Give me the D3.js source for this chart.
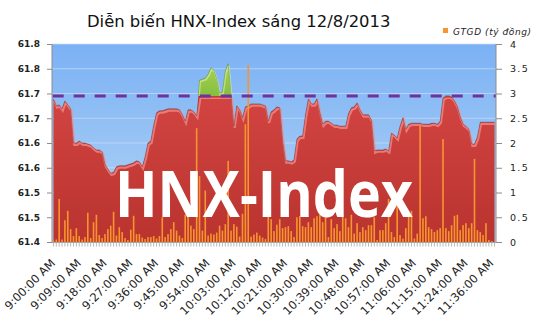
<!DOCTYPE html>
<html><head><meta charset="utf-8">
<script src="https://cdn.jsdelivr.net/npm/d3@7"></script>
<style>body{margin:0;background:#fff}svg{display:block}</style>
</head><body>
<svg id="c" width="535" height="335"></svg>
<script>
const title = "Diễn biến HNX-Index sáng 12/8/2013";
const legendLabel = "GTGD (tỷ đồng)";
const watermark = "HNX-Index";
const referenceValue = 61.695;

const categories = [
"9:00","9:01","9:02","9:03","9:04","9:05","9:06","9:07","9:08","9:09",
"9:10","9:11","9:12","9:13","9:14","9:15","9:16","9:17","9:18","9:19",
"9:20","9:21","9:22","9:23","9:24","9:25","9:26","9:27","9:28","9:29",
"9:30","9:31","9:32","9:33","9:34","9:35","9:36","9:37","9:38","9:39",
"9:40","9:41","9:42","9:43","9:44","9:45","9:46","9:47","9:48","9:49",
"9:50","9:51","9:52","9:53","9:54","9:55","9:56","9:57","9:58","9:59",
"10:00","10:01","10:02","10:03","10:04","10:05","10:06","10:07","10:08","10:09",
"10:10","10:11","10:12","10:13","10:14","10:15","10:16","10:17","10:18","10:19",
"10:20","10:21","10:22","10:23","10:24","10:25","10:26","10:27","10:28","10:29",
"10:30","10:31","10:32","10:33","10:34","10:35","10:36","10:37","10:38","10:39",
"10:40","10:41","10:42","10:43","10:44","10:45","10:46","10:47","10:48","10:49",
"10:50","10:51","10:52","10:53","10:54","10:55","10:56","10:57","10:58","10:59",
"11:00","11:01","11:02","11:03","11:04","11:05","11:06","11:07","11:08","11:09",
"11:10","11:11","11:12","11:13","11:14","11:15","11:16","11:17","11:18","11:19",
"11:20","11:21","11:22","11:23","11:24","11:25","11:26","11:27","11:28","11:29",
"11:30","11:34","11:35","11:36","11:37"];

const xTickLabels = ["9:00:00 AM","9:09:00 AM","9:18:00 AM","9:27:00 AM","9:36:00 AM","9:45:00 AM",
"9:54:00 AM","10:03:00 AM","10:12:00 AM","10:21:00 AM","10:30:00 AM","10:39:00 AM","10:48:00 AM",
"10:57:00 AM","11:06:00 AM","11:15:00 AM","11:24:00 AM","11:36:00 AM"];
const xTickCategories = ["9:00","9:09","9:18","9:27","9:36","9:45","9:54","10:03","10:12","10:21",
"10:30","10:39","10:48","10:57","11:06","11:15","11:24","11:36"];

const indexValues = [
61.689,61.675,61.677,61.669,61.685,61.677,61.669,61.600,61.600,61.604,
61.600,61.600,61.598,61.596,61.590,61.586,61.586,61.582,61.556,61.547,
61.539,61.541,61.552,61.554,61.554,61.554,61.556,61.558,61.560,61.564,
61.562,61.552,61.572,61.600,61.604,61.636,61.661,61.665,61.665,61.667,
61.669,61.669,61.669,61.669,61.667,61.657,61.644,61.667,61.667,61.663,
61.655,61.727,61.729,61.731,61.739,61.752,61.747,61.729,61.701,61.703,
61.745,61.760,61.697,61.634,61.675,61.667,61.651,61.673,61.675,61.679,
61.679,61.679,61.679,61.677,61.675,61.644,61.663,61.667,61.673,61.671,
61.606,61.564,61.564,61.562,61.566,61.608,61.614,61.614,61.657,61.689,
61.679,61.679,61.689,61.661,61.638,61.644,61.644,61.640,61.636,61.636,
61.634,61.634,61.634,61.659,61.671,61.673,61.681,61.667,61.657,61.657,
61.657,61.646,61.584,61.586,61.586,61.586,61.588,61.584,61.620,61.616,
61.610,61.634,61.651,61.628,61.638,61.640,61.640,61.640,61.640,61.638,
61.638,61.638,61.640,61.640,61.638,61.644,61.691,61.695,61.695,61.693,
61.685,61.673,61.653,61.638,61.634,61.628,61.598,61.598,61.612,61.642,
61.642,61.642,61.642,61.642,61.642];

const volumeValues = [
0.03,0.05,0.87,0.05,0.44,0.63,0.26,0.12,0.28,0.12,
0.05,0.10,0.59,0.08,0.40,0.55,0.14,0.08,0.16,0.26,
0.33,0.61,0.13,0.30,0.20,0.08,0.04,0.25,0.53,0.16,
0.16,0.09,0.06,0.10,0.10,0.12,0.07,0.12,0.50,0.10,
0.16,0.26,0.40,0.23,0.13,0.08,0.55,0.51,0.33,0.26,
2.30,1.33,0.23,1.04,0.13,0.17,0.15,0.19,0.33,0.23,
0.36,1.64,0.23,0.36,0.31,0.11,0.57,2.38,3.58,0.11,
0.15,0.19,0.13,0.09,0.06,0.63,0.46,0.22,0.35,0.46,
0.28,0.30,0.32,0.22,0.10,0.50,0.52,0.32,0.30,0.40,
0.30,0.48,0.52,0.55,0.40,0.50,0.10,0.46,0.28,0.36,
0.22,0.55,0.48,0.30,0.55,0.17,0.38,0.20,0.30,0.24,
0.34,0.34,0.50,0.04,0.24,0.24,0.38,0.87,0.20,0.10,
0.87,0.14,0.07,0.28,0.55,0.63,0.07,0.17,2.35,0.48,
0.52,0.30,0.26,0.20,0.24,0.28,2.08,0.28,0.22,0.34,
0.53,0.55,0.24,0.34,0.38,0.28,0.38,1.68,0.24,0.20,
0.14,0.38,0.04,0.02,0.00];

const leftTicks = [61.4,61.45,61.5,61.55,61.6,61.65,61.7,61.75,61.8];
const leftTickLabels = ["61.4","61.5","61.5","61.6","61.6","61.7","61.7","61.8","61.8"];
const rightTicks = [0,0.5,1,1.5,2,2.5,3,3.5,4];
const rightTickLabels = ["0","0.5","1","1.5","2","2.5","3","3.5","4"];

const svg = d3.select("#c");
const L = 52, R = 496, T = 44, B = 242;

const x = d3.scalePoint().domain(categories).range([L, R]).padding(0.5);
const yL = d3.scaleLinear().domain([61.4, 61.8]).range([B, T]);
const yR = d3.scaleLinear().domain([0, 4]).range([B, T]);
const data = categories.map((c, i) => ({c, v: indexValues[i], q: volumeValues[i]}));

const defs = svg.append("defs");
const bg = defs.append("linearGradient").attr("id","bg").attr("x1",0).attr("x2",0).attr("y1",0).attr("y2",1);
bg.append("stop").attr("offset","0%").attr("stop-color","#7BB1F5");
bg.append("stop").attr("offset","100%").attr("stop-color","#B5D6F4");
const rg = defs.append("linearGradient").attr("id","rg").attr("gradientUnits","userSpaceOnUse")
  .attr("x1",0).attr("x2",0).attr("y1",T).attr("y2",B);
rg.append("stop").attr("offset","0%").attr("stop-color","#DB4A48");
rg.append("stop").attr("offset","100%").attr("stop-color","#B9332F");
const gg = defs.append("linearGradient").attr("id","gg").attr("gradientUnits","userSpaceOnUse")
  .attr("x1",0).attr("x2",0).attr("y1",60).attr("y2",97);
gg.append("stop").attr("offset","0%").attr("stop-color","#A9D45A");
gg.append("stop").attr("offset","100%").attr("stop-color","#86BE3C");
defs.append("clipPath").attr("id","below").append("rect")
  .attr("x",L).attr("y",yL(referenceValue)).attr("width",R-L).attr("height",B-yL(referenceValue));
defs.append("clipPath").attr("id","above").append("rect")
  .attr("x",L).attr("y",T).attr("width",R-L).attr("height",yL(referenceValue)-T);

// plot background
svg.append("rect").attr("x",L).attr("y",T).attr("width",R-L).attr("height",B-T).attr("fill","url(#bg)");

// gridlines
svg.append("g").selectAll("line").data(leftTicks.slice(1)).join("line")
  .attr("x1",L).attr("x2",R).attr("y1",d=>yL(d)).attr("y2",d=>yL(d))
  .attr("stroke","#C9DFF8").attr("stroke-width",1).attr("opacity",0.7);

const area = d3.area().x(d=>x(d.c)).y0(B).y1(d=>yL(d.v));
const topLine = d3.line().x(d=>x(d.c)).y(d=>yL(d.v));
const redTop = d3.line().x(d=>x(d.c)).y(d=>yL(Math.min(d.v, referenceValue)));

// red area
svg.append("path").datum(data).attr("d",area).attr("fill","url(#rg)").attr("clip-path","url(#below)");
svg.append("path").datum(data).attr("d",redTop).attr("fill","none")
  .attr("stroke","#F08E8B").attr("stroke-width",2.2).attr("transform","translate(0.8,1.8)")
  .attr("opacity",0.75).attr("clip-path","url(#below)");
svg.append("path").datum(data).attr("d",redTop).attr("fill","none")
  .attr("stroke","#6E2626").attr("stroke-width",0.8).attr("opacity",0.55);
// green area
const ga = svg.append("g").attr("clip-path","url(#above)");
ga.append("path").datum(data).attr("d",area).attr("fill","url(#gg)");
ga.append("path").datum(data).attr("d",topLine).attr("fill","none")
  .attr("stroke","#D4EC9C").attr("stroke-width",1.8).attr("transform","translate(0.6,1.6)").attr("opacity",0.7);
ga.append("path").datum(data).attr("d",topLine).attr("fill","none")
  .attr("stroke","#4F7A1E").attr("stroke-width",0.7).attr("opacity",0.6);

// volume bars
svg.append("g").selectAll("rect").data(data).join("rect")
  .attr("x",d=>x(d.c)-0.8).attr("width",1.6)
  .attr("y",d=>yR(d.q)).attr("height",d=>B-yR(d.q))
  .attr("fill","#F6952E");

// reference dashed line
svg.append("line").attr("x1",L+0.7).attr("x2",R).attr("y1",yL(referenceValue)).attr("y2",yL(referenceValue))
  .attr("stroke","#7030A0").attr("stroke-width",3.2).attr("stroke-dasharray","11,10");

// watermark
svg.append("text").attr("x",115).attr("y",217).text(watermark)
  .attr("font-family","Open Sans").attr("font-weight","bold").attr("font-size",65)
  .attr("textLength",298).attr("lengthAdjust","spacingAndGlyphs").attr("fill","#fff");

// axes lines
svg.append("line").attr("x1",L).attr("x2",L).attr("y1",T).attr("y2",B).attr("stroke","#8C8C8C");
svg.append("line").attr("x1",R).attr("x2",R).attr("y1",T).attr("y2",B).attr("stroke","#8C8C8C");
svg.append("line").attr("x1",L).attr("x2",R).attr("y1",B+0.5).attr("y2",B+0.5).attr("stroke","#A6A6A6");

// left axis
const gl = svg.append("g").attr("transform",`translate(${L},0)`)
  .call(d3.axisLeft(yL).tickValues(leftTicks).tickFormat((d,i)=>leftTickLabels[i]).tickSize(5).tickPadding(7));
gl.select(".domain").remove();
gl.selectAll(".tick line").attr("stroke","#8C8C8C");
gl.selectAll("text").attr("font-family","DejaVu Sans").attr("font-weight","bold").attr("font-size",9).attr("fill","#222");

// right axis
const gr = svg.append("g").attr("transform",`translate(${R},0)`)
  .call(d3.axisRight(yR).tickValues(rightTicks).tickFormat((d,i)=>rightTickLabels[i]).tickSize(6).tickPadding(8));
gr.select(".domain").remove();
gr.selectAll(".tick line").attr("stroke","#8C8C8C");
gr.selectAll("text").attr("font-family","DejaVu Sans").attr("font-size",9.5).attr("letter-spacing",1.3).attr("fill","#222");

// x axis minor ticks
svg.append("g").selectAll("line").data(categories).join("line")
  .attr("x1",d=>x(d)).attr("x2",d=>x(d)).attr("y1",B+0.5).attr("y2",B+4.5)
  .attr("stroke","#A6A6A6").attr("stroke-width",0.8);

// x labels
svg.append("g").selectAll("text").data(xTickCategories).join("text")
  .attr("transform",d=>`translate(${x(d)+2.5},${B+22}) rotate(-45)`)
  .attr("text-anchor","end").attr("font-family","DejaVu Sans").attr("font-size",11.5).attr("fill","#222")
  .text((d,i)=>xTickLabels[i]);

// title
svg.append("text").attr("x",87).attr("y",26.5).text(title)
  .attr("font-family","DejaVu Sans").attr("font-size",16.4).attr("fill","#111");

// legend
svg.append("rect").attr("x",443).attr("y",28).attr("width",5).attr("height",5).attr("fill","#F6952E");
svg.append("text").attr("x",453).attr("y",34.5).text(legendLabel)
  .attr("font-family","DejaVu Sans").attr("font-style","italic").attr("font-size",9)
  .attr("textLength",78).attr("lengthAdjust","spacing").attr("fill","#222");
</script>
</body></html>
